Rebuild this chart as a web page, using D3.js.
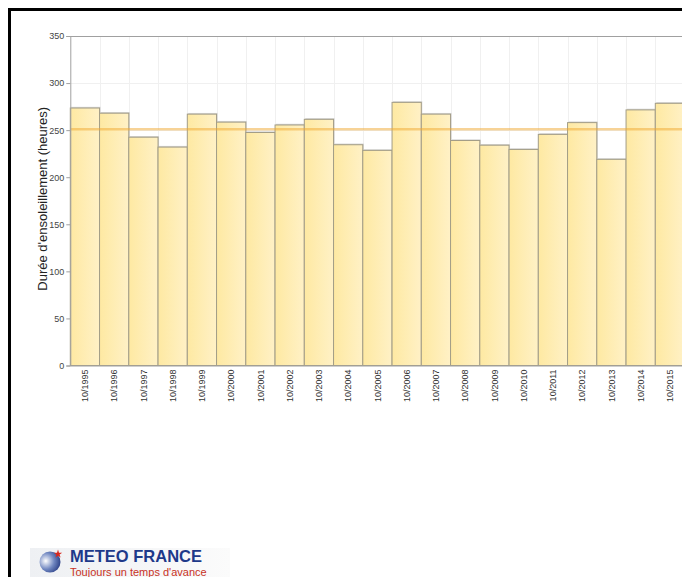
<!DOCTYPE html>
<html><head><meta charset="utf-8">
<script src="https://cdn.jsdelivr.net/npm/d3@7/dist/d3.min.js"></script>
<style>body{margin:0;background:#fff;}svg{display:block;font-family:"Liberation Sans",Arial,sans-serif;}</style>
</head><body>
<script>
const categories = ["10/1995","10/1996","10/1997","10/1998","10/1999","10/2000","10/2001","10/2002","10/2003","10/2004","10/2005","10/2006","10/2007","10/2008","10/2009","10/2010","10/2011","10/2012","10/2013","10/2014","10/2015"];
const sunshine = [273.5,268,242.5,232,267,258.5,247.5,255.5,261.5,234.5,228.5,279.5,267,239,234,229.5,245.5,258,219,271.5,278.5];
const average = [251];
const yTicks = [0,50,100,150,200,250,300,350];
const yTitle = "Durée d'ensoleillement (heures)";

(function(){
const W = 682, H = 577;
const svg = d3.select("body").append("svg").attr("width", W).attr("height", H);
const defs = svg.append("defs");
const g1 = defs.append("linearGradient").attr("id","barGrad").attr("x1","0").attr("x2","1").attr("y1","0").attr("y2","0");
g1.append("stop").attr("offset","0").attr("stop-color","#fee9a2");
g1.append("stop").attr("offset","1").attr("stop-color","#fff1c6");
const g2 = defs.append("radialGradient").attr("id","globe").attr("cx","0.3").attr("cy","0.45").attr("r","0.8");
g2.append("stop").attr("offset","0").attr("stop-color","#ffffff");
g2.append("stop").attr("offset","0.5").attr("stop-color","#6f86c0");
g2.append("stop").attr("offset","1").attr("stop-color","#1b2f78");
const g3 = defs.append("linearGradient").attr("id","logoBg").attr("x1","0").attr("x2","1");
g3.append("stop").attr("offset","0").attr("stop-color","#eef0f3");
g3.append("stop").attr("offset","1").attr("stop-color","#fbfbfb");

// frame
svg.append("rect").attr("x",9.5).attr("y",9.5).attr("width",W+20).attr("height",H+20)
  .attr("fill","none").attr("stroke","#000").attr("stroke-width",3);

const pLeft = 70.3, pTop = 36, pBottom = 365.5, step = 29.25;
const x = d3.scaleBand().domain(categories).range([pLeft, pLeft + step*categories.length]).padding(0);
const y = d3.scaleLinear().domain([0,350]).range([pBottom, pTop]);

// grid
const grid = svg.append("g");
grid.selectAll("line.h").data(yTicks.slice(1,-1)).join("line")
  .attr("x1",pLeft).attr("x2",W).attr("y1",d=>Math.round(y(d))+0.5).attr("y2",d=>Math.round(y(d))+0.5)
  .attr("stroke","#f0f0f0");
grid.selectAll("line.v").data(categories.slice(1)).join("line")
  .attr("x1",d=>Math.round(x(d))+0.5).attr("x2",d=>Math.round(x(d))+0.5).attr("y1",pTop).attr("y2",pBottom)
  .attr("stroke","#f0f0f0");
svg.append("line").attr("x1",pLeft).attr("x2",W).attr("y1",pTop+0.5).attr("y2",pTop+0.5).attr("stroke","#a0a0a0");

// bars (shadow + bar)
const bars = svg.append("g");
bars.selectAll("rect.sh").data(sunshine).join("rect")
  .attr("x",(d,i)=>x(categories[i])+1).attr("y",d=>y(d)-1.2)
  .attr("width",x.bandwidth()).attr("height",d=>pBottom-y(d))
  .attr("fill","#d8d8d8");
bars.selectAll("rect.b").data(sunshine).join("rect")
  .attr("x",(d,i)=>x(categories[i])).attr("y",d=>y(d))
  .attr("width",x.bandwidth()).attr("height",d=>pBottom-y(d))
  .attr("fill","url(#barGrad)").attr("stroke","#a39d87").attr("stroke-width",1);

// average line
svg.selectAll("line.avg").data(average).join("line")
  .attr("x1",pLeft).attr("x2",W).attr("y1",d=>y(d)).attr("y2",d=>y(d))
  .attr("stroke","#f0a830").attr("stroke-opacity",0.5).attr("stroke-width",2.5);

// y axis
const yAxis = svg.append("g").attr("transform",`translate(${pLeft},0)`)
  .call(d3.axisLeft(y).tickValues(yTicks).tickSize(4).tickPadding(2));
yAxis.select(".domain").attr("stroke","#a0a0a0");
yAxis.selectAll(".tick line").attr("stroke","#a0a0a0");
yAxis.selectAll(".tick text").attr("fill","#444").style("font-size","9px");

// x axis
const xAxis = svg.append("g").attr("transform",`translate(0,${pBottom})`)
  .call(d3.axisBottom(x).tickSize(0).tickPadding(0));
xAxis.select(".domain").attr("stroke","#a0a0a0");
xAxis.selectAll(".tick text").attr("fill","#333").style("font-size","9px")
  .attr("transform","rotate(-90)").attr("text-anchor","end").attr("x",-4).attr("y",0).attr("dy","0.35em");

// y title
svg.append("text").attr("transform",`translate(47,${(pTop+pBottom)/2 - 2}) rotate(-90)`)
  .attr("text-anchor","middle").attr("fill","#222").style("font-size","13px").text(yTitle);

// logo
const logo = svg.append("g");
logo.append("rect").attr("x",30).attr("y",548).attr("width",200).attr("height",29).attr("fill","url(#logoBg)");
logo.append("circle").attr("cx",50).attr("cy",562).attr("r",10.5).attr("fill","url(#globe)");
logo.append("path").attr("d",d3.symbol(d3.symbolStar,22)()).attr("transform","translate(58,554)").attr("fill","#d8281e");
logo.append("text").attr("x",70).attr("y",562).attr("fill","#1e3a8a").style("font-size","16.5px").style("font-weight","bold").text("METEO FRANCE");
logo.append("text").attr("x",70).attr("y",575.5).attr("fill","#c8321e").style("font-size","11px").text("Toujours un temps d'avance");
})();
</script>
</body></html>
